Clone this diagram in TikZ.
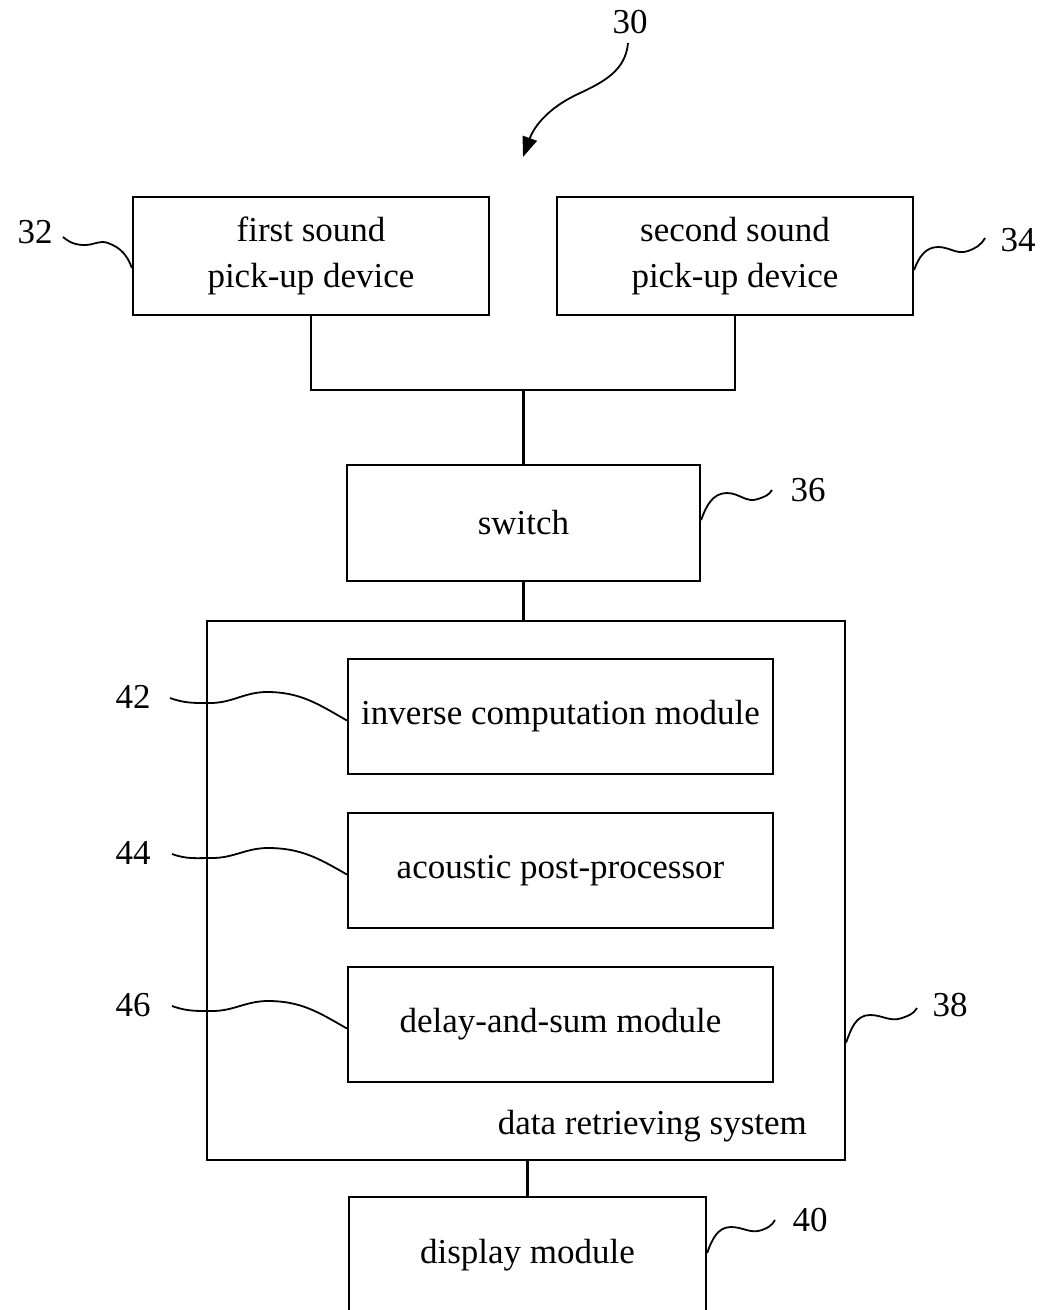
\documentclass[tikz,border=0pt]{standalone}
\usepackage{fontspec}
\setmainfont{Liberation Serif}
\usetikzlibrary{arrows.meta}
\begin{document}
\begin{tikzpicture}[x=1pt,y=1pt, line width=2.2pt,
  box/.style={draw, rectangle, inner sep=0pt, align=center, font=\fontsize{35}{46}\selectfont},
  lbl/.style={inner sep=0pt, font=\fontsize{35}{42}\selectfont},
  lead/.style={line width=1.8pt}]
\useasboundingbox (0,0) rectangle (1042,-1310);
\clip (0,0) rectangle (1042,-1310);
% boxes
\node[box, minimum width=356, minimum height=118] (first) at (311,-256) {first sound\\pick-up device};
\node[box, minimum width=356, minimum height=118] (second) at (735,-256) {second sound\\pick-up device};
\node[box, minimum width=353, minimum height=116] (switch) at (523.5,-523) {switch};
\node[box, minimum width=638, minimum height=539] (drs) at (526,-890.5) {};
\node[box, minimum width=425, minimum height=115] (inv) at (560.5,-716.5) {inverse computation module};
\node[box, minimum width=425, minimum height=115] (acou) at (560.5,-870.5) {acoustic post-processor};
\node[box, minimum width=425, minimum height=115] (delay) at (560.5,-1024.5) {delay-and-sum module};
\node[lbl, anchor=east] (drst) at (808,-1126) {data retrieving system};
\node[box, minimum width=357, minimum height=140, text height=24pt, text depth=32pt] (disp) at (527.5,-1267) {display module};
% connectors
\coordinate (j) at (523.5,-390);
\draw (first.south) |- (j) -| (second.south);
\draw (j) -- (switch.north);
\draw (switch.south) -- (switch.south |- drs.north);
\draw (disp.north) -- (disp.north |- drs.south);
% labels
\node[lbl] (n30) at (630,-22) {30};
\node[lbl] (n32) at (35,-232) {32};
\node[lbl] (n34) at (1018,-240) {34};
\node[lbl] (n36) at (808,-490) {36};
\node[lbl] (n38) at (950,-1005) {38};
\node[lbl] (n40) at (810,-1220) {40};
\node[lbl] (n42) at (133,-697) {42};
\node[lbl] (n44) at (133,-853) {44};
\node[lbl] (n46) at (133,-1005) {46};
% leader free ends
\coordinate (a30) at (628,-43);
\coordinate (t30) at (523,-157);
\coordinate (a32) at (63,-237);
\coordinate (a34) at (985,-238);
\coordinate (a36) at (772,-490);
\coordinate (a38) at (917,-1008);
\coordinate (a40) at (775,-1220);
\coordinate (a42) at (170,-698);
\coordinate (a44) at (172,-854);
\coordinate (a46) at (172,-1006);
% leaders
\draw[lead, -{Triangle[length=20pt,width=15pt]}] (a30) to[out=-95,in=25] (578,-94) to[out=205,in=70] (t30);
\draw[lead] (a32) to[out=-40,in=180] (85,-245) to[out=0,in=160] (108,-243) to[out=-20,in=110] ([yshift=-12]first.west);
\draw[lead] ([yshift=-14]second.east) to[out=70,in=180] (938,-247) to[out=0,in=200] (968,-251) to[out=20,in=240] (a34);
\draw[lead] ([yshift=3]switch.east) to[out=70,in=180] (727,-493) to[out=0,in=200] (758,-499) to[out=20,in=240] (a36);
\draw[lead] ([yshift=-152]drs.east) to[out=70,in=180] (870,-1015) to[out=0,in=200] (902,-1018) to[out=20,in=240] (a38);
\draw[lead] ([yshift=14]disp.east) to[out=70,in=180] (731,-1227) to[out=0,in=200] (762,-1230) to[out=20,in=240] (a40);
\draw[lead] (a42) to[out=-20,in=180] (210,-703) to[out=0,in=180] (267,-692) to[out=0,in=150] ([yshift=-4]inv.west);
\draw[lead] (a44) to[out=-20,in=180] (212,-858) to[out=0,in=180] (268,-848) to[out=0,in=150] ([yshift=-4]acou.west);
\draw[lead] (a46) to[out=-20,in=180] (212,-1011) to[out=0,in=180] (268,-1001) to[out=0,in=150] ([yshift=-4]delay.west);
\end{tikzpicture}
\end{document}
